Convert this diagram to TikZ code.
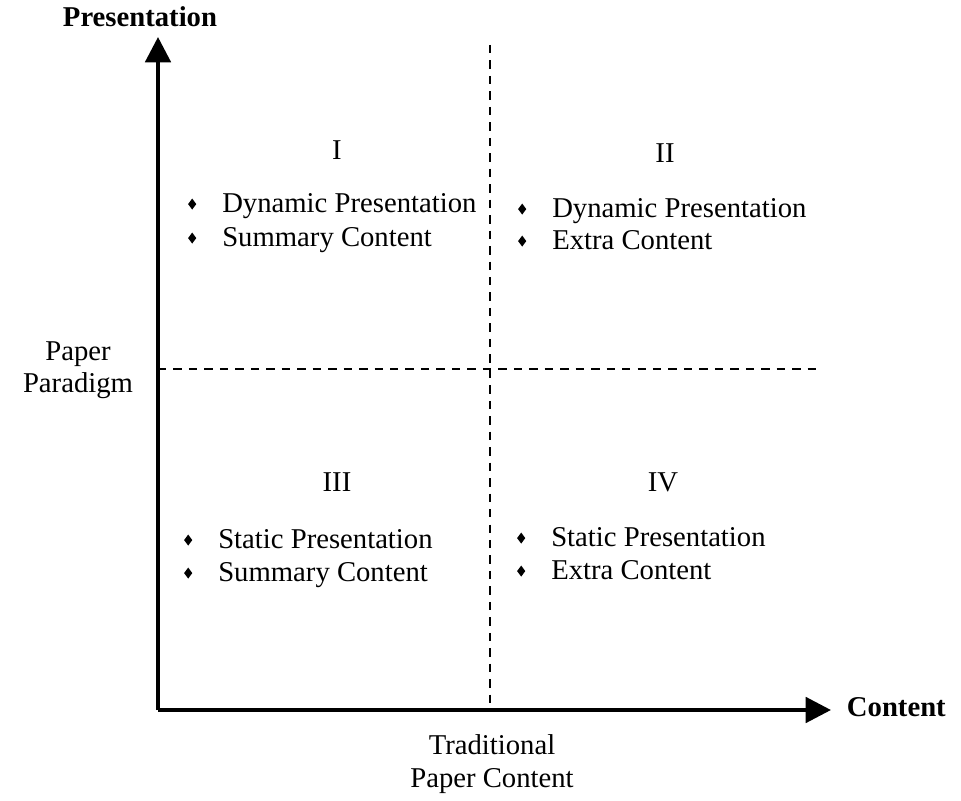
\documentclass[tikz,border=0pt]{standalone}
\usepackage{fontspec}
\setmainfont{Liberation Serif}
\usetikzlibrary{arrows.meta,positioning,shapes.geometric}

\begin{document}
\begin{tikzpicture}[
                    x=0.025cm,
                    y=-0.025cm,
                    font=\fontsize{20.4}{23}\selectfont,
                    axis/.style={line width=2.8pt,-{Triangle[length=18pt,width=18pt]}},
                    split/.style={line width=1.3pt,dash pattern=on 6pt off 5pt},
                    item/.style={anchor=west,inner sep=0pt,text height=1.5ex,text depth=.3ex},
                    dot/.style={diamond,fill=black,inner sep=0pt,minimum width=6pt,minimum height=8pt,left=18pt of #1,yshift=3.5pt}
                ]
                \useasboundingbox (0,0) rectangle (961,801);

                % axes
                \coordinate (O)    at (158,710);
                \coordinate (ytip) at (158,37);
                \coordinate (xtip) at (831,710);
                \coordinate (vtop) at (490,45);
                \coordinate (vbot) at (490,710);
                \coordinate (hl)   at (158,369);
                \coordinate (hr)   at (818,369);

                \draw[split] (vtop) -- (vbot);
                \draw[split] (hl) -- (hr);
                \draw[axis] (O) -- (ytip);
                \draw[axis] (O) -- (xtip);

                \node[font=\fontsize{20.4}{23}\selectfont\bfseries] (pres) at (140,17) {Presentation};
                \node[font=\fontsize{20.4}{23}\selectfont\bfseries,anchor=west] (cont) at (842,707) {Content};
                \node[align=center] (trad) at (492,764) {Traditional\\Paper Content};
                \node[align=center] (para) at (78,370) {Paper\\Paradigm};

                % quadrants
                \node (qI)   at (337,150) {I};
                \node (qII)  at (665,153) {II};
                \node (qIII) at (337,482) {III};
                \node (qIV)  at (663,482) {IV};

                \node[item] (dynI)  at (222,209) {Dynamic Presentation};
                \node[item] (sumI)  at (222,243) {Summary Content};
                \node[item] (dynII) at (552,214) {Dynamic Presentation};
                \node[item] (extII) at (552,246) {Extra Content};
                \node[item] (staIII) at (218,545) {Static Presentation};
                \node[item] (sumIII) at (218,578) {Summary Content};
                \node[item] (staIV) at (551,543) {Static Presentation};
                \node[item] (extIV) at (551,576) {Extra Content};

                \foreach \n in {dynI,sumI,dynII,extII,staIII,sumIII,staIV,extIV}
                    \node[dot=\n] (b\n) {};
            \end{tikzpicture}
\end{document}
